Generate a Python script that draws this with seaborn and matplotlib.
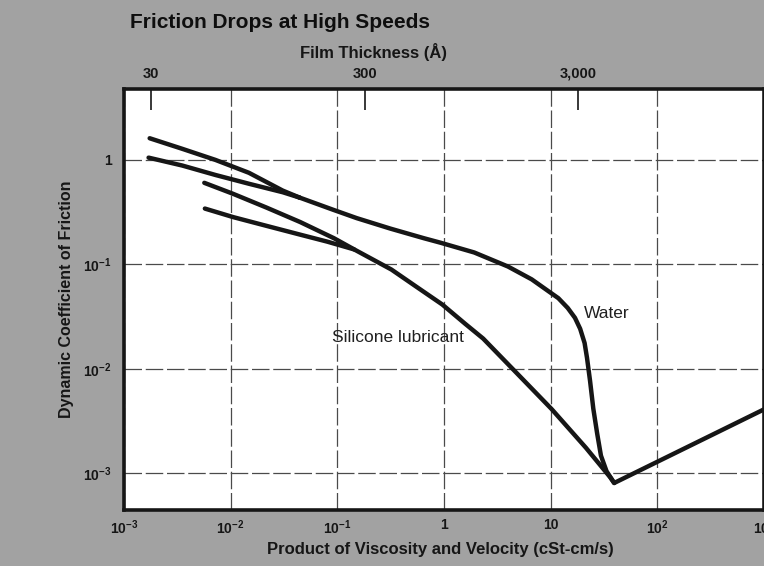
import numpy as np
import pandas as pd
import matplotlib
matplotlib.use("Agg")
import matplotlib.pyplot as plt
import seaborn as sns

# Friction vs. product of viscosity and velocity
# water: two low-speed branches that join, then one curve down to the minimum and up again
water_upper_x = [0.00174, 0.00348, 0.00718, 0.01483, 0.0308, 0.0442]
water_upper_y = [1.61, 1.28, 1.0, 0.752, 0.508, 0.436]
water_lower_x = [0.00170, 0.00351, 0.00723, 0.0149, 0.0308, 0.0442]
water_lower_y = [1.05, 0.883, 0.716, 0.590, 0.490, 0.436]
water_x = [0.0442, 0.0914, 0.152, 0.314, 0.647, 0.931, 1.92, 3.97, 6.64, 9.55, 11.8, 14.45,
           16.9, 18.9, 20.8, 21.9, 23.4, 25.1, 27.3, 29.6, 33.4, 39.4, 1000]
water_y = [0.436, 0.333, 0.277, 0.220, 0.178, 0.161, 0.130, 0.0955, 0.0719, 0.0553, 0.0475,
           0.0383, 0.0308, 0.0242, 0.0177, 0.0128, 0.00769, 0.00417, 0.0024, 0.00148,
           0.00105, 0.00081, 0.0041]

# silicone lubricant: two low-speed branches that join
silicone_upper_x = [0.00566, 0.0105, 0.0216, 0.0449, 0.0929, 0.144, 0.321, 0.537, 0.964, 1.58,
                    2.33, 4.88, 10.2, 21.4, 36.1, 39.4]
silicone_upper_y = [0.603, 0.474, 0.350, 0.254, 0.178, 0.139, 0.0893, 0.0622, 0.0413, 0.0270,
                    0.0195, 0.00897, 0.00413, 0.00176, 0.00092, 0.00081]
silicone_lower_x = [0.00573, 0.0106, 0.0219, 0.0453, 0.0805, 0.144]
silicone_lower_y = [0.342, 0.283, 0.233, 0.192, 0.165, 0.139]

x_ticks = [1e-3, 1e-2, 1e-1, 1, 10, 1e2, 1e3]
x_tick_labels = [r"$10^{-3}$", r"$10^{-2}$", r"$10^{-1}$", "1", "10", r"$10^{2}$", r"$10^{3}$"]
y_ticks = [1e-3, 1e-2, 1e-1, 1]
y_tick_labels = [r"$10^{-3}$", r"$10^{-2}$", r"$10^{-1}$", "1"]
film_ticks = [30, 300, 3000]
film_tick_labels = ["30", "300", "3,000"]

# film thickness grows with the square root of the product
K_FILM = 707.0


def to_film(x):
    return K_FILM * np.sqrt(np.clip(x, 1e-12, None))


def from_film(t):
    return (np.asarray(t) / K_FILM) ** 2


sns.set_style("white")
plt.rcParams["font.family"] = ["Liberation Sans", "DejaVu Sans"]
plt.rcParams["mathtext.fontset"] = "custom"
plt.rcParams["mathtext.rm"] = "Liberation Sans:bold"
plt.rcParams["mathtext.it"] = "Liberation Sans:bold"
plt.rcParams["mathtext.default"] = "regular"

bg = "#a2a2a2"
ink = "#161616"
fig = plt.figure(figsize=(7.64, 5.66), dpi=100, facecolor=bg)
ax = fig.add_axes([124 / 764, 1 - 510 / 566, 640 / 764, 421 / 566])
ax.set_facecolor("white")

series = [
    (water_upper_x, water_upper_y),
    (water_lower_x, water_lower_y),
    (water_x, water_y),
    (silicone_upper_x, silicone_upper_y),
    (silicone_lower_x, silicone_lower_y),
]
for xs, ys in series:
    df = pd.DataFrame({"x": xs, "y": ys})
    sns.lineplot(data=df, x="x", y="y", sort=False, estimator=None, color=ink,
                 linewidth=3.2, ax=ax, solid_joinstyle="round", solid_capstyle="round")

ax.set_xscale("log")
ax.set_yscale("log")
ax.set_xlim(1e-3, 1e3)
ax.set_ylim(10 ** -3.35, 10 ** 0.678)

ax.set_xticks(x_ticks)
ax.set_xticklabels(x_tick_labels)
ax.set_yticks(y_ticks)
ax.set_yticklabels(y_tick_labels)
ax.minorticks_off()
ax.grid(True, which="major", color="#4a4a4a", linestyle=(0, (14, 3)), linewidth=0.9)
ax.tick_params(axis="x", length=0, pad=6, labelsize=10, colors=ink)
ax.tick_params(axis="y", length=0, pad=9, labelsize=10, colors=ink)
for lab in ax.get_xticklabels() + ax.get_yticklabels():
    lab.set_fontweight("bold")

for side in ["left", "bottom", "top", "right"]:
    ax.spines[side].set_visible(True)
    ax.spines[side].set_color(ink)
    ax.spines[side].set_linewidth(2.6)

# curve labels
ax.text(33.6, 0.034, "Water", fontsize=12.5, ha="center", va="center", color="#202020")
ax.text(0.366, 0.0198, "Silicone lubricant", fontsize=12.5, ha="center", va="center",
        color="#202020")

# top axis: film thickness
sec = ax.secondary_xaxis("top", functions=(to_film, from_film))
sec.set_xticks(film_ticks)
sec.set_xticklabels(film_tick_labels)
sec.minorticks_off()
sec.tick_params(axis="x", direction="in", length=15, width=1.2, pad=6, labelsize=10.5,
                colors=ink)
for lab in sec.get_xticklabels():
    lab.set_fontweight("bold")
sec.spines["top"].set_visible(False)

fig.text(374 / 764, 1 - 52 / 566, "Film Thickness (Å)", fontsize=12, fontweight="bold",
         ha="center", va="center", color=ink)

ax.set_xlabel("Product of Viscosity and Velocity (cSt-cm/s)", fontsize=12,
              fontweight="bold", color=ink)
ax.xaxis.set_label_coords(0.495, -0.076)
ax.set_ylabel("Dynamic Coefficient of Friction", fontsize=11.5, fontweight="bold",
              color=ink)
ax.yaxis.set_label_coords(-0.078, 0.5)

fig.text(130 / 764, 1 - 22 / 566, "Friction Drops at High Speeds", fontsize=15,
         fontweight="bold", ha="left", va="center", color="#0e0e0e")

fig.savefig("out.png", dpi=100, facecolor=bg)
